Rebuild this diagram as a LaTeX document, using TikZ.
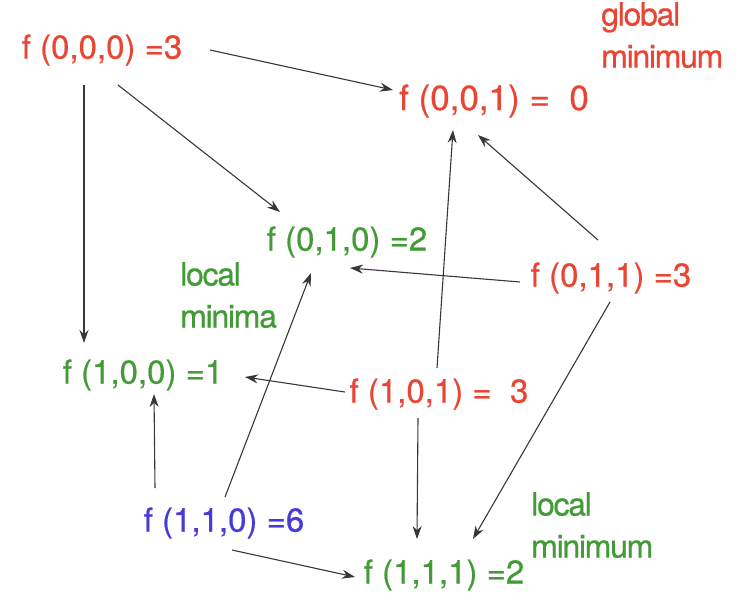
\documentclass[tikz,border=0pt]{standalone}
\usepackage{fontspec}
\setmainfont{TeX Gyre Heros}[FakeBold=0.6]
\newfontfamily\notefont{TeX Gyre Heros}[FakeBold=0.6,LetterSpace=-4]
\usetikzlibrary{calc,arrows.meta}
\definecolor{cred}{RGB}{234,68,50}
\definecolor{cgreen}{RGB}{66,155,54}
\definecolor{cblue}{RGB}{72,58,214}
\definecolor{cline}{RGB}{55,55,55}
\begin{document}
\begin{tikzpicture}[x=1pt,y=-1pt,
  lbl/.style={inner sep=0pt, font=\fontsize{33}{36}\selectfont},
  biglbl/.style={inner sep=0pt, font=\fontsize{35}{38}\selectfont},
  note/.style={inner sep=0pt, align=left, anchor=north west, font=\notefont\fontsize{32}{42}\selectfont},
  arr/.style={draw=cline, line width=1.1pt, -{Stealth[length=13pt,width=9pt]}}]
\useasboundingbox (0,0) rectangle (742,603);
% nodes
\node[lbl, text=cred]    (n000) at (102,50)  {f (0,0,0) =3};
\node[biglbl, text=cred] (n001) at (494,101) {f (0,0,1) =\ \ 0};
\node[lbl, text=cgreen]  (n010) at (347,242) {f (0,1,0) =2};
\node[lbl, text=cred]    (n011) at (611,278) {f (0,1,1) =3};
\node[lbl, text=cgreen]  (n100) at (143,375) {f (1,0,0) =1};
\node[lbl, text=cred]    (n101) at (439,394) {f (1,0,1) =\ \ 3};
\node[lbl, text=cblue]   (n110) at (224,523) {f (1,1,0) =6};
\node[lbl, text=cgreen]  (n111) at (444,575) {f (1,1,1) =2};
% annotations
\node[note, text=cred]   (gmin) at (601,2)   {global\\minimum};
\node[note, text=cgreen] (lmna) at (180,262) {local\\minima};
\node[note, text=cgreen] (lmin) at (531,492) {local\\minimum};
% connectors
\draw[arr] ($(n000)+(108,0)$)   -- ($(n001)+(-101,-11)$);
\draw[arr] ($(n000)+(-18,35)$)  -- ($(n100)+(-59,-32)$);
\draw[arr] ($(n000)+(16,35)$)   -- ($(n010)+(-67,-30)$);
\draw[arr] ($(n011)+(-13,-38)$) -- ($(n001)+(-16,34)$);
\draw[arr] ($(n011)+(-91,4)$)   -- ($(n010)+(3,26)$);
\draw[arr] ($(n011)+(-1,24)$)   -- ($(n111)+(29,-36)$);
\draw[arr] ($(n101)+(-2,-26)$)  -- ($(n001)+(-41,29)$);
\draw[arr] ($(n101)+(-94,-2)$)  -- ($(n100)+(102,2)$);
\draw[arr] ($(n101)+(-21,24)$)  -- ($(n111)+(-27,-36)$);
\draw[arr] ($(n110)+(-69,-35)$) -- ($(n100)+(11,19)$);
\draw[arr] ($(n110)+(1,-26)$)   -- ($(n010)+(-36,31)$);
\draw[arr] ($(n110)+(8,27)$)    -- ($(n111)+(-89,2)$);
\end{tikzpicture}
\end{document}
